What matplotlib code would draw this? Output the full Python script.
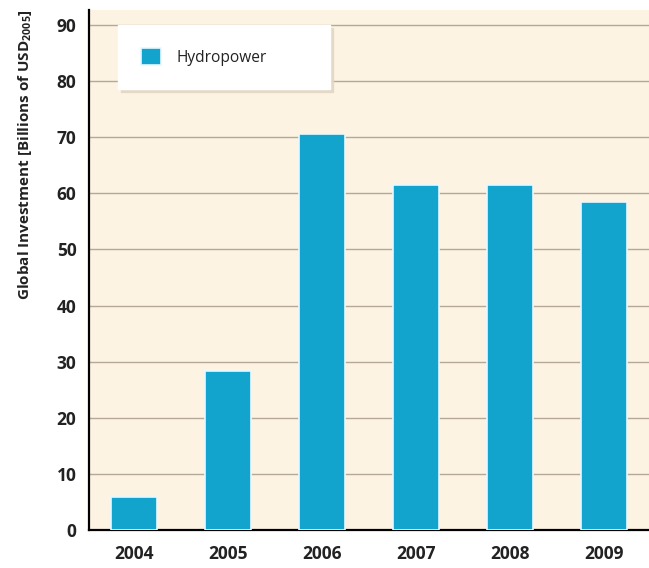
import matplotlib
matplotlib.use('Agg')
import matplotlib.pyplot as plt
import numpy as np

# Data
years = ['2004', '2005', '2006', '2007', '2008', '2009']
investment = [5.9, 28.3, 70.6, 61.5, 61.5, 58.5]
y_ticks = [0, 10, 20, 30, 40, 50, 60, 70, 80, 90]

plt.rcParams['font.family'] = ['Open Sans', 'DejaVu Sans']
plt.rcParams['mathtext.fontset'] = 'custom'
plt.rcParams['mathtext.bf'] = 'Open Sans:bold'
plt.rcParams['mathtext.rm'] = 'Open Sans'
plt.rcParams['mathtext.default'] = 'bf'

fig = plt.figure(figsize=(6.49, 5.68), dpi=100)
ax = fig.add_axes([0.137, 0.067, 0.863, 0.9155])
ax.set_facecolor('#fdf3e3')

x = np.arange(len(years))
ax.bar(x, investment, width=0.49, color='#12a4cc', edgecolor='#e8f8ff',
       linewidth=1.2, label='Hydropower', zorder=3)

ax.set_xlim(-0.48, 5.48)
ax.set_ylim(0, 92.7)
ax.set_yticks(y_ticks)
ax.set_xticks(x)
ax.set_xticklabels(years)
ax.yaxis.grid(True, color='#b5a898', linewidth=1.0, zorder=0)
ax.set_axisbelow(True)
ax.tick_params(axis='x', length=0, labelsize=12.5, pad=11)
ax.tick_params(axis='y', length=0, labelsize=12.5, pad=9)
for lbl in ax.get_xticklabels() + ax.get_yticklabels():
    lbl.set_fontweight('bold')
    lbl.set_color('#222222')

ax.spines['top'].set_visible(False)
ax.spines['right'].set_visible(False)
ax.spines['left'].set_linewidth(1.6)
ax.spines['bottom'].set_linewidth(1.6)

ax.set_ylabel('Global Investment [Billions of USD$_{2005}$]', fontsize=11,
              fontweight='bold', color='#222222')
ax.yaxis.set_label_coords(-0.098, 0.722)

leg = ax.legend(loc='upper left', bbox_to_anchor=(0.052, 0.971, 0.379, 0.0),
                mode='expand', frameon=True, fancybox=False,
                shadow={'color': '#e3d8c6', 'alpha': 0.9},
                fontsize=11.2, handlelength=1.25, handleheight=1.25,
                borderpad=1.5, handletextpad=1.0, borderaxespad=0)
leg.get_frame().set_edgecolor('white')
leg.get_frame().set_facecolor('white')
for t in leg.get_texts():
    t.set_color('#222222')

fig.savefig('out.png', dpi=100)
